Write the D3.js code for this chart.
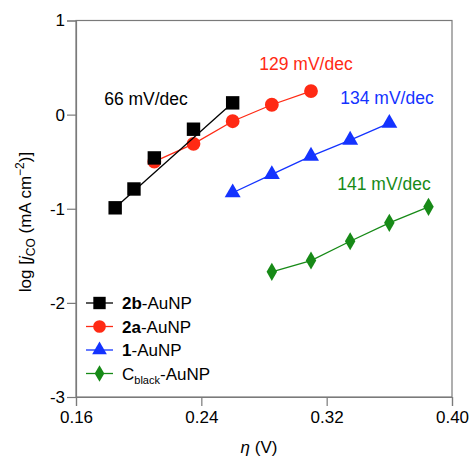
<!DOCTYPE html>
<html>
<head>
<meta charset="utf-8">
<script src="https://cdn.jsdelivr.net/npm/d3@7"></script>
<style>
  body { margin: 0; background: #fff; }
  svg { font-family: "Liberation Sans", Arial, sans-serif; }
</style>
</head>
<body>
<svg></svg>
<script>
let w = 472;
let h = 458;

// data
const eta2b = [0.185, 0.197, 0.21, 0.235, 0.26];
const log2b = [-0.99, -0.79, -0.46, -0.155, 0.125];
const eta2a = [0.21, 0.235, 0.26, 0.285, 0.31];
const log2a = [-0.50, -0.31, -0.07, 0.105, 0.25];
const eta1 = [0.26, 0.285, 0.31, 0.335, 0.36];
const log1 = [-0.83, -0.635, -0.44, -0.27, -0.09];
const etaCb = [0.285, 0.31, 0.335, 0.36, 0.385];
const logCb = [-1.67, -1.55, -1.345, -1.15, -0.98];
const slopes = ['66 mV/dec', '129 mV/dec', '134 mV/dec', '141 mV/dec'];
const xTicks = [0.16, 0.24, 0.32, 0.40];
const yTicks = [-3, -2, -1, 0, 1];

const series = [
  {id: '2b', x: eta2b, y: log2b, color: '#000000', shape: d3.symbolSquare, size: 180, slope: slopes[0], lx: 146, ly: 99, fit: true},
  {id: '2a', x: eta2a, y: log2a, color: '#ff2a14', shape: d3.symbolCircle, size: 150, slope: slopes[1], lx: 306, ly: 64},
  {id: '1', x: eta1, y: log1, color: '#1433ff', shape: d3.symbolTriangle, size: 110, slope: slopes[2], lx: 387, ly: 98},
  {id: 'Cb', x: etaCb, y: logCb, color: '#178a17', shape: d3.symbolDiamond, size: 95, slope: slopes[3], lx: 384, ly: 184}
];

const svg = d3.select('svg')
  .attr('width', w)
  .attr('height', h)

const xScale = d3.scaleLinear()
  .domain([0.16, 0.40])
  .range([76, 452])

const yScale = d3.scaleLinear()
  .domain([-3, 1])
  .range([397, 20.5])

// frame
svg.append('rect')
  .attr('x', 76).attr('y', 20.5)
  .attr('width', 376).attr('height', 376.5)
  .attr('fill', 'none')
  .attr('stroke', '#7a7a7a')
  .attr('stroke-width', 1.2)

// axes
const xAxis = d3.axisBottom(xScale)
  .tickValues(xTicks)
  .tickSize(9)
  .tickPadding(5)
  .tickFormat(d3.format('.2f'))

svg.append('g')
  .attr('transform', 'translate(0,397)')
  .call(xAxis)
  .call(g => g.select('.domain').attr('stroke', '#7a7a7a').attr('stroke-width', 1.2))
  .call(g => g.selectAll('.tick line').attr('stroke', '#7a7a7a').attr('stroke-width', 1.2))
  .call(g => g.selectAll('.tick text').attr('font-size', 17).attr('fill', '#000').attr('font-family', 'Liberation Sans'))

const yAxis = d3.axisLeft(yScale)
  .tickValues(yTicks)
  .tickSize(9)
  .tickPadding(2)
  .tickFormat(d => d)

svg.append('g')
  .attr('transform', 'translate(76,0)')
  .call(yAxis)
  .call(g => g.select('.domain').attr('stroke', '#7a7a7a').attr('stroke-width', 1.2))
  .call(g => g.selectAll('.tick line').attr('stroke', '#7a7a7a').attr('stroke-width', 1.2))
  .call(g => g.selectAll('.tick text').attr('font-size', 17).attr('fill', '#000').attr('font-family', 'Liberation Sans'))

// axis titles
const xt = svg.append('text')
  .attr('x', 259).attr('y', 453)
  .attr('text-anchor', 'middle')
  .attr('font-size', 17)
xt.append('tspan').attr('font-style', 'italic').text('η')
xt.append('tspan').text(' (V)')

const yt = svg.append('text')
  .attr('transform', 'translate(31,222) rotate(-90)')
  .attr('text-anchor', 'middle')
  .attr('font-size', 17)
yt.append('tspan').text('log [')
yt.append('tspan').attr('font-style', 'italic').text('j')
yt.append('tspan').attr('font-size', 12).attr('dy', 4).text('CO')
yt.append('tspan').attr('dy', -4).text(' (mA cm')
yt.append('tspan').attr('font-size', 12).attr('dy', -7).text('−2')
yt.append('tspan').attr('dy', 7).text(')]')

// lines and markers (drawn back to front so 2b sits on top)
const line = d3.line()
  .x(d => xScale(d[0]))
  .y(d => yScale(d[1]))

series.slice().reverse().forEach(s => {
  const pts = s.x.map((v, i) => [v, s.y[i]])
  // 2b is drawn with a straight fit line from first to last point
  const linePts = s.fit ? [pts[0], pts[pts.length - 1]] : pts
  svg.append('path')
    .datum(linePts)
    .attr('d', line)
    .attr('fill', 'none')
    .attr('stroke', s.color)
    .attr('stroke-width', 1.3)

  svg.selectAll('.m' + s.id)
    .data(pts)
    .enter()
    .append('path')
    .attr('d', d3.symbol().type(s.shape).size(s.size))
    .attr('transform', d => 'translate(' + xScale(d[0]) + ',' + yScale(d[1]) + ')')
    .attr('fill', s.color)

  svg.append('text')
    .attr('x', s.lx).attr('y', s.ly + 6)
    .attr('text-anchor', 'middle')
    .attr('font-size', 17.5)
    .attr('fill', s.color)
    .text(s.slope)
})

// legend
const legend = svg.append('g')
series.forEach((s, i) => {
  const y = 303 + i * 23.5
  legend.append('line')
    .attr('x1', 86).attr('x2', 113)
    .attr('y1', y).attr('y2', y)
    .attr('stroke', s.color)
    .attr('stroke-width', 1.3)
  legend.append('path')
    .attr('d', d3.symbol().type(s.shape).size(s.size * 0.85))
    .attr('transform', 'translate(99.5,' + y + ')')
    .attr('fill', s.color)
  const t = legend.append('text')
    .attr('x', 122).attr('y', y + 6)
    .attr('font-size', 17)
  if (s.id === 'Cb') {
    t.append('tspan').text('C')
    t.append('tspan').attr('font-size', 11).attr('dy', 4).text('black')
    t.append('tspan').attr('dy', -4).text('-AuNP')
  } else {
    t.append('tspan').attr('font-weight', 'bold').text(s.id)
    t.append('tspan').text('-AuNP')
  }
})
</script>
</body>
</html>
